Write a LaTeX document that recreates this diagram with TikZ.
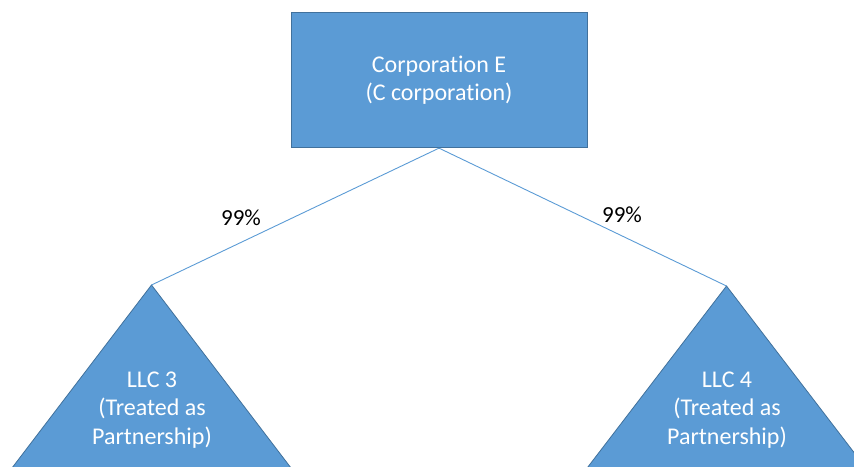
\documentclass[tikz,border=0pt]{standalone}
\usepackage{fontspec}
\setmainfont[Ligatures={NoCommon}]{Carlito}
\definecolor{boxfill}{HTML}{5B9BD5}
\definecolor{boxline}{HTML}{41719C}
\begin{document}
\begin{tikzpicture}[x=1pt,y=-1pt]
                \tikzset{entity/.style={fill=boxfill,draw=boxline,line width=0.8pt},
                    label/.style={text=white,align=center,font=\fontsize{24}{28.5}\selectfont,inner sep=0pt},
                    link/.style={draw=boxfill,line width=0.9pt},
                    share/.style={font=\fontsize{23}{28}\selectfont,inner sep=0pt}}
                \useasboundingbox (0,0) rectangle (854,466);
                \clip (0,0) rectangle (854,466);
                % parent corporation
                \node [entity,label,minimum width=296pt,minimum height=135.5pt] (corpE) at (439,80) {Corporation E\\(C corporation)};
                % apexes of the two LLCs
                \coordinate (llcA) at (151.5,285);
                \coordinate (llcB) at (726.5,286);
                \draw [entity] (llcA) -- (-17,506) -- (320,506) -- cycle;
                \draw [entity] (llcB) -- (558,506) -- (895,506) -- cycle;
                \node [label] (llcThree) at (152,410) {LLC 3\\(Treated as\\Partnership)};
                \node [label] (llcFour) at (727,410) {LLC 4\\(Treated as\\Partnership)};
                % ownership lines
                \draw [link] (corpE.south) -- (llcA);
                \draw [link] (corpE.south) -- (llcB);
                \node [share] (pctA) at (241,218) {99\%};
                \node [share] (pctB) at (622,215) {99\%};
            \end{tikzpicture}
\end{document}
